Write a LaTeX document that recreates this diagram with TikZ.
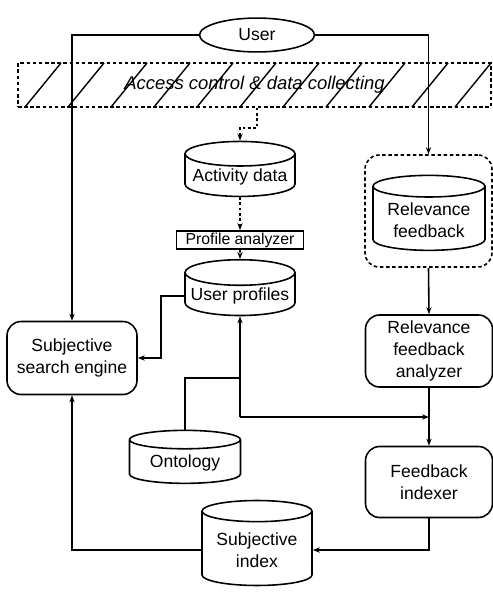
\documentclass[tikz,border=0pt]{standalone}
\usepackage{fontspec}
\setmainfont{Liberation Sans}
\usetikzlibrary{arrows.meta,positioning,shapes.geometric}

\begin{document}
\begin{tikzpicture}[x=0.02cm,y=-0.02cm,
    every node/.style={font=\fontsize{10}{12.5}\selectfont, align=center},
    base/.style={draw, line width=0.9pt},
    store/.style={base, cylinder, shape border rotate=90, aspect=0.25, inner sep=1pt},
    proc/.style={base, rectangle, rounded corners=8pt, minimum width=2.54cm},
    link/.style={line width=0.9pt, -{Stealth[length=4pt,width=3pt]}},
    dotlink/.style={link, dash pattern=on 1.5pt off 1.5pt},
    dotbox/.style={draw, line width=0.9pt, dash pattern=on 2pt off 1.5pt}]
    \useasboundingbox (0,0) rectangle (493,593);

    % top: user and the access layer
    \node (user) [base, ellipse, minimum width=2.3cm, minimum height=0.52cm] at (257,35) {User};
    \node (access) [dotbox, rectangle, minimum width=9.46cm, minimum height=0.88cm,
        font=\fontsize{10.5}{12.5}\selectfont\itshape] at (254.5,85) {Access control \& data collecting};
    \begin{scope}
        \clip (access.south west) rectangle (access.north east);
        \foreach \hx in {25,68,...,500}
            \draw[line width=0.8pt] (\hx,107) -- ++(36,-44);
    \end{scope}

    % profile chain
    \node (activity) [store, minimum width=2.2cm, minimum height=1.1cm] at (240,177) {Activity data};
    \node (profana) [base, rectangle, inner sep=1pt, minimum width=2.54cm, minimum height=0.32cm,
        font=\fontsize{9}{11}\selectfont] at (240,240) {Profile analyzer};
    \node (uprof) [store, minimum width=2.2cm, minimum height=0.96cm] at (240,296) {User profiles};
    \node (onto) [store, minimum width=2.22cm, minimum height=1.06cm] at (185,463) {Ontology};
    \node (sindex) [store, minimum width=2.2cm, minimum height=1.7cm] at (257,550) {Subjective\\index};

    % search engine
    \node (engine) [proc, minimum width=2.6cm, minimum height=1.46cm] at (72,358) {Subjective\\search engine};

    % relevance feedback side
    \node (rfbox) [dotbox, rectangle, rounded corners=8pt, minimum width=2.54cm, minimum height=2.24cm] at (428.5,211) {};
    \node (relfb) [store, minimum width=2.24cm, minimum height=1.5cm] at (429,220) {Relevance\\feedback};
    \node (rfana) [proc, minimum height=1.44cm] at (429,351) {Relevance\\feedback\\analyzer};
    \node (indexer) [proc, minimum height=1.42cm] at (429,482) {Feedback\\indexer};

    \coordinate (ontojoin) at (240,378);
    \coordinate (fbjoin) at (240,417);

    % connectors
    \draw[link] (user.west) -| (engine.north);
    \draw[link] (user.east) -| (rfbox.north);
    \draw[dotlink] (access.south -| user.south) -- ++(0,20) -| (activity.north);
    \draw[dotlink] (activity.south) -- (profana.north);
    \draw[dotlink] (profana.south) -- (uprof.north);
    \draw[link] (uprof.west) -- ++(-23,0) |- (engine.east);
    \draw[line width=0.9pt] (onto.north) |- (ontojoin);
    \draw[link] (fbjoin) -- (uprof.south);
    \draw[link] (fbjoin) -- (fbjoin -| rfana.south);
    \draw[link] (rfbox.south) -- (rfana.north);
    \draw[link] (rfana.south) -- (indexer.north);
    \draw[link] (indexer.south) |- (sindex.east);
    \draw[link] (sindex.west) -| (engine.south);
\end{tikzpicture}
\end{document}
